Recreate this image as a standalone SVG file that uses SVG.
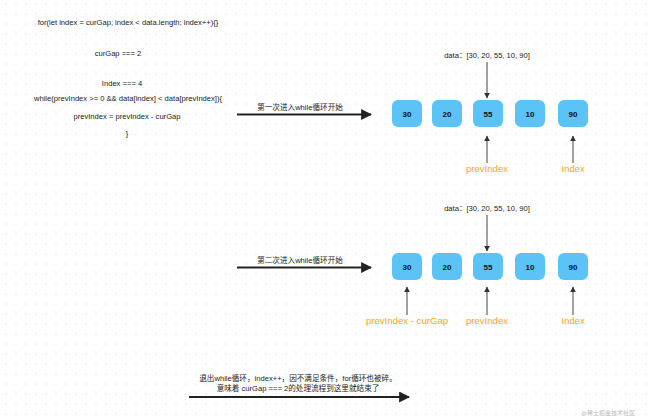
<svg xmlns="http://www.w3.org/2000/svg" width="650" height="420" viewBox="0 0 650 420">
<defs>
<pattern id="grid" x="1" y="-1" width="10" height="10" patternUnits="userSpaceOnUse">
<circle cx="5" cy="5" r="0.6" fill="#c8c8c8"/>
</pattern>
<marker id="ah" viewBox="0 0 10 10" refX="9" refY="5" markerWidth="6" markerHeight="6" markerUnits="userSpaceOnUse" orient="auto">
<path d="M0,0 L10,5 L0,10 z" fill="#333"/>
</marker>
<marker id="ahb" viewBox="0 0 10 10" refX="9" refY="5" markerWidth="5" markerHeight="5" orient="auto">
<path d="M0,0 L10,5 L0,10 z" fill="#222"/>
</marker>
</defs>
<style>
text{font-family:"Liberation Sans","Noto Sans CJK SC",sans-serif;}
.code{font-size:7.6px;fill:#222;text-anchor:middle;}
.lbl{font-size:7.6px;fill:#222;text-anchor:middle;}
.box{fill:#5BC3F6;}
.num{font-size:8px;font-weight:bold;fill:#111;text-anchor:middle;}
.or{font-size:9.6px;fill:#F5A623;text-anchor:middle;}
.thin{stroke:#444;stroke-width:1;fill:none;}
.thick{stroke:#222;stroke-width:2.2;fill:none;}
</style>
<rect width="650" height="420" fill="#fff"/>
<rect width="650" height="420" fill="url(#grid)"/>

<g id="code">
<text class="code" x="128" y="25">for(let index = curGap; index &lt; data.length; index++){}</text>
<text class="code" x="118" y="56">curGap === 2</text>
<text class="code" x="122" y="86">Index === 4</text>
<text class="code" x="128" y="101">while(prevIndex &gt;= 0 &amp;&amp; data[index] &lt; data[prevIndex]){</text>
<text class="code" x="127" y="119">prevIndex = prevIndex - curGap</text>
<text class="code" x="127" y="136">}</text>
</g>

<g id="row1">
<text class="lbl" x="487" y="58">data：[30, 20, 55, 10, 90]</text>
<g id="r1b0"><rect class="box" x="392" y="100" width="30" height="27" rx="6"/><text class="num" x="407" y="116.5">30</text></g>
<g id="r1b1"><rect class="box" x="432" y="100" width="30" height="27" rx="6"/><text class="num" x="447" y="116.5">20</text></g>
<g id="r1b2"><rect class="box" x="473" y="100" width="30" height="27" rx="6"/><text class="num" x="488" y="116.5">55</text></g>
<g id="r1b3"><rect class="box" x="515" y="100" width="30" height="27" rx="6"/><text class="num" x="530" y="116.5">10</text></g>
<g id="r1b4"><rect class="box" x="558" y="100" width="30" height="27" rx="6"/><text class="num" x="573" y="116.5">90</text></g>
<text class="or" x="487" y="172">prevIndex</text>
<text class="or" x="573" y="172">Index</text>
<text class="lbl" x="300" y="110">第一次进入while循环开始</text>
</g>

<g id="row2">
<text class="lbl" x="487" y="211">data：[30, 20, 55, 10, 90]</text>
<g id="r2b0"><rect class="box" x="392" y="253" width="30" height="27" rx="6"/><text class="num" x="407" y="269.5">30</text></g>
<g id="r2b1"><rect class="box" x="432" y="253" width="30" height="27" rx="6"/><text class="num" x="447" y="269.5">20</text></g>
<g id="r2b2"><rect class="box" x="473" y="253" width="30" height="27" rx="6"/><text class="num" x="488" y="269.5">55</text></g>
<g id="r2b3"><rect class="box" x="515" y="253" width="30" height="27" rx="6"/><text class="num" x="530" y="269.5">10</text></g>
<g id="r2b4"><rect class="box" x="558" y="253" width="30" height="27" rx="6"/><text class="num" x="573" y="269.5">90</text></g>
<text class="or" x="407" y="324">prevIndex - curGap</text>
<text class="or" x="487" y="324">prevIndex</text>
<text class="or" x="573" y="324">Index</text>
<text class="lbl" x="300" y="263">第二次进入while循环开始</text>
</g>

<g id="end">
<text class="lbl" x="298" y="381">退出while循环，index++，因不满足条件，for循环也被碎。</text>
<text class="lbl" x="298" y="391">意味着 curGap === 2的处理流程到这里就结束了</text>
</g>

<g id="connectors">
<line class="thin" x1="487" y1="62" x2="487" y2="98" marker-end="url(#ah)"/>
<line class="thin" x1="487" y1="163" x2="487" y2="136" marker-end="url(#ah)"/>
<line class="thin" x1="573" y1="163" x2="573" y2="136" marker-end="url(#ah)"/>
<line class="thick" x1="237" y1="114.5" x2="371" y2="114.5" marker-end="url(#ahb)"/>
<line class="thin" x1="487" y1="215" x2="487" y2="251" marker-end="url(#ah)"/>
<line class="thin" x1="407" y1="315" x2="407" y2="287" marker-end="url(#ah)"/>
<line class="thin" x1="487" y1="315" x2="487" y2="287" marker-end="url(#ah)"/>
<line class="thin" x1="573" y1="315" x2="573" y2="287" marker-end="url(#ah)"/>
<line class="thick" x1="237" y1="267.5" x2="371" y2="267.5" marker-end="url(#ahb)"/>
<line class="thick" x1="189" y1="397" x2="409" y2="397" marker-end="url(#ahb)"/>
</g>
<text x="635" y="415" style="font-size:6px;fill:#bbb;text-anchor:end;">@稀土掘金技术社区</text>
</svg>
